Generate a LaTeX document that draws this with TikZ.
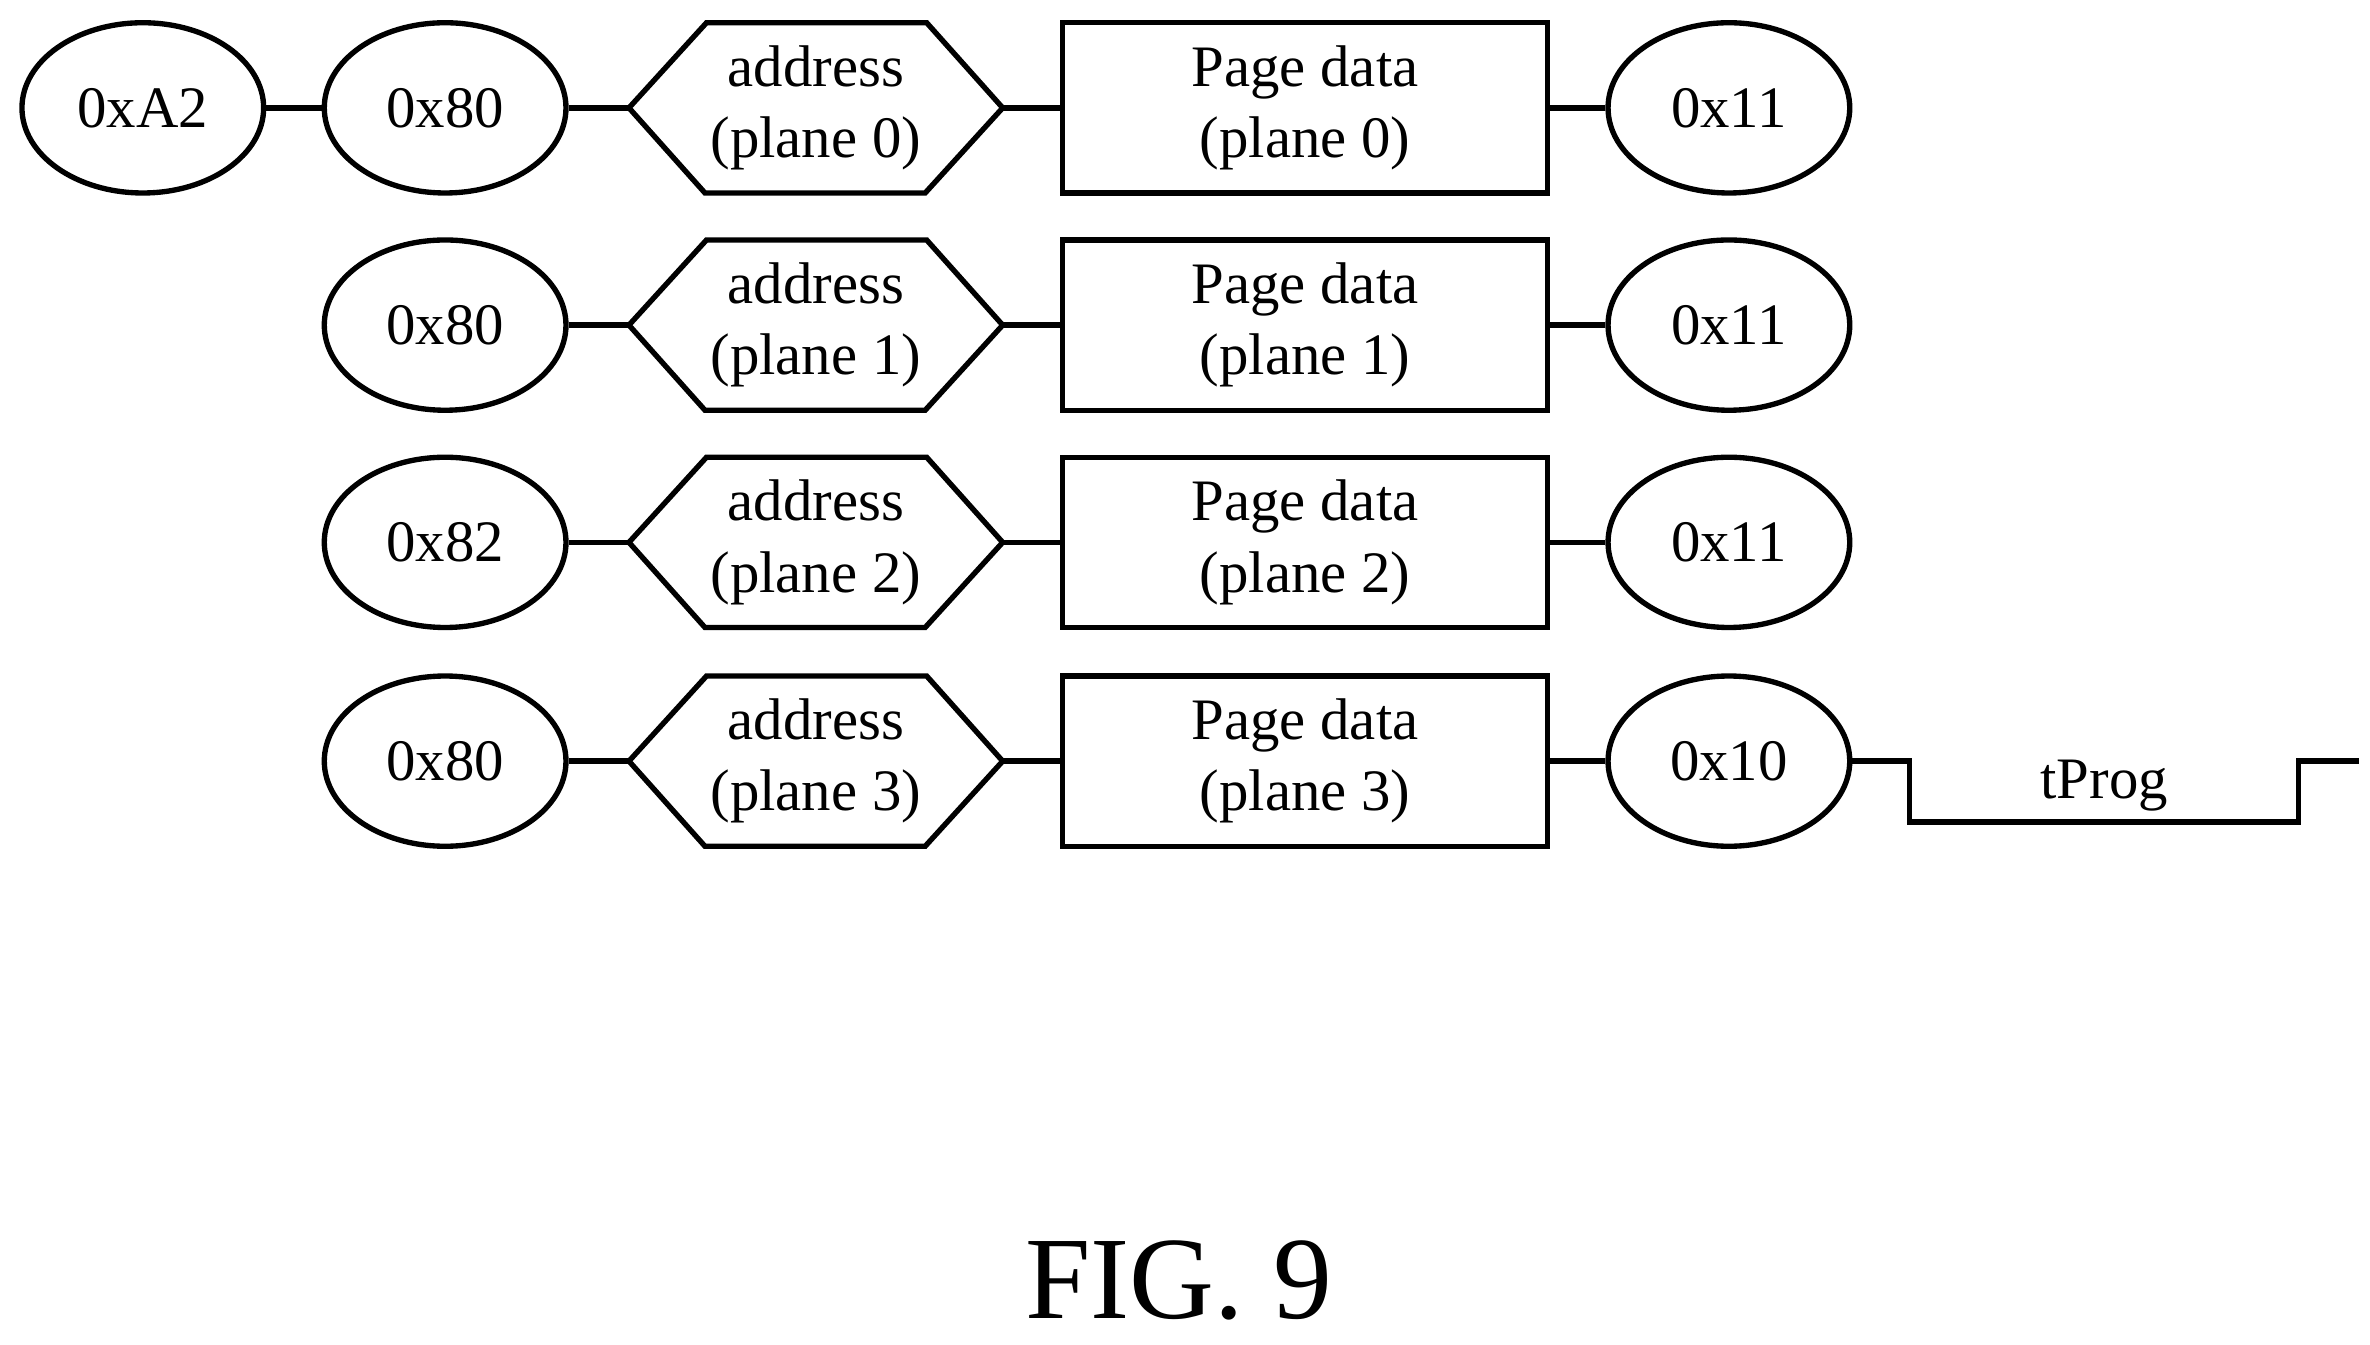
\documentclass[tikz,border=0pt]{standalone}
\usepackage{fontspec}
\setmainfont{Liberation Serif}
\usetikzlibrary{shapes.geometric}
\begin{document}
\begin{tikzpicture}[x=0.01cm,y=-0.01cm,line width=1pt,
  tx/.style={font=\fontsize{11}{13.3}\selectfont},
  el/.style={draw,ellipse,minimum width=1.59cm,minimum height=1.12cm,inner sep=0pt,tx},
  bx/.style={draw,rectangle,minimum width=3.19cm,minimum height=1.12cm,inner sep=0pt,align=center,tx}]
\useasboundingbox (0,0) rectangle (1560,885);
\foreach \y/\a/\b/\p/\i in {71/80/11/0/0,214/80/11/1/1,357/82/11/2/2,501/80/10/3/3}{
  \node[el] (c\i) at (293,\y) {0x\a};
  \coordinate (hl\i) at (414,\y);
  \coordinate (hr\i) at (660,\y);
  \draw (hl\i) -- ++(51,-56) -- ++(145,0) -- (hr\i) -- ++(-51,56) -- ++(-145,0) -- cycle;
  \node[align=center,tx] (h\i) at (537,\y) {address\\(plane \p)};
  \node[bx] (r\i) at (859,\y) {Page data\\(plane \p)};
  \node[el] (e\i) at (1138,\y) {0x\b};
  \draw (c\i) -- (hl\i);
  \draw (hr\i) -- (r\i);
  \draw (r\i) -- (e\i);
}
\node[el] (a2) at (94,71) {0xA2};
\draw (a2) -- (c0);
\coordinate (t1) at (1553,501);
\draw (e3) -- (1257,501) -- (1257,541) -- (1513,541) -- (1513,501) -- (t1);
\node[tx] (tp) at (1385,517) {tProg};
\node[font=\fontsize{22}{25}\selectfont] (fig) at (776,843) {FIG. 9};
\end{tikzpicture}
\end{document}
